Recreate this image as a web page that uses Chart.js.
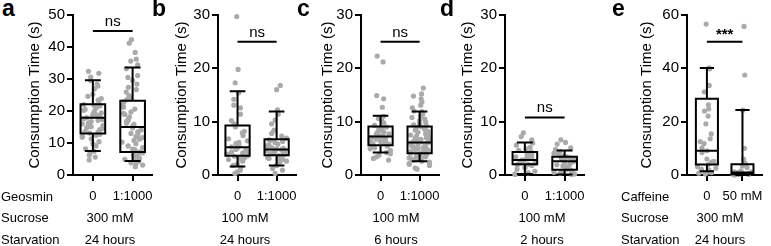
<!DOCTYPE html>
<html><head><meta charset="utf-8">
<script src="https://cdn.jsdelivr.net/npm/chart.js@4.4.0/dist/chart.umd.min.js"></script>
<style>
html,body{margin:0;padding:0;background:#fff;}
#wrap{position:relative;width:771px;height:246px;overflow:hidden;font-family:'Liberation Sans',Arial,sans-serif;color:#000;}
canvas{position:absolute;top:0;}
.t{position:absolute;font-size:13px;line-height:14px;white-space:nowrap;}
.c{transform:translateX(-50%);}
.p{position:absolute;font-weight:bold;font-size:23px;line-height:23px;}
</style></head><body><div id="wrap"></div>
<script>
// ---------- data ----------
const yTitle = 'Consumption Time (s)';
const aCats = ['0', '1:1000'];
const bCats = ['0', '1:1000'];
const cCats = ['0', '1:1000'];
const dCats = ['0', '1:1000'];
const eCats = ['0', '50 mM'];

const aYTicks = [0, 10, 20, 30, 40, 50];
const bYTicks = [0, 10, 20, 30];
const cYTicks = [0, 10, 20, 30];
const dYTicks = [0, 10, 20, 30];
const eYTicks = [0, 20, 40, 60];

// box stats: [whisker low, Q1, median, Q3, whisker high]
const aBox = [[7.5, 13.0, 17.9, 22.1, 29.6], [4.4, 7.2, 15.0, 23.2, 33.6]];
const bBox = [[1.6, 3.6, 5.2, 9.3, 15.7], [1.8, 3.7, 4.8, 6.7, 11.9]];
const cBox = [[4.2, 5.6, 7.2, 9.1, 11.1], [2.6, 4.1, 6.1, 9.1, 11.9]];
const dBox = [[0.2, 2.0, 2.8, 4.3, 6.1], [0.1, 1.0, 2.6, 3.4, 4.6]];
const eBox = [[1.4, 3.9, 9.1, 28.6, 40.1], [0.0, 0.3, 0.9, 4.0, 24.4]];

// individual observations
const aG1 = [18.3, 12.7, 24.6, 9.1, 20.2, 15.4, 29.5, 17.1, 13.6, 21.8, 6.2, 19.4, 16.0, 26.9, 11.3, 22.5, 18.9, 14.2, 4.7, 20.9, 17.6, 31.8, 13.1, 23.4, 8.2, 19.8, 15.9, 27.8, 12.0, 21.3, 16.7, 10.4, 25.2, 18.0, 14.8, 5.6, 22.0, 17.3, 30.6, 13.4, 20.5, 7.4, 16.3, 23.9, 11.8, 19.1, 15.1, 28.4, 9.8, 21.6, 17.9, 12.4, 32.4, 14.5, 6.8, 18.6];
const aG2 = [15.3, 5.2, 27.4, 9.8, 21.2, 3.1, 35.6, 12.6, 18.9, 6.4, 24.8, 14.1, 33.2, 7.9, 19.7, 4.3, 29.6, 11.2, 16.8, 2.6, 22.9, 8.6, 42.3, 13.5, 25.9, 5.8, 17.4, 31.1, 10.3, 20.6, 3.8, 36.2, 14.7, 7.2, 23.6, 12.0, 41.2, 6.9, 18.2, 26.7, 4.9, 15.8, 9.1, 34.4, 21.8, 5.5, 13.0, 28.4, 8.1, 38.3, 16.2, 3.5, 19.3, 11.7, 24.2, 6.1, 30.5, 10.8, 17.0];
const bG1 = [5.1, 3.2, 9.6, 1.4, 6.8, 4.4, 29.7, 2.6, 13.1, 5.6, 0.3, 8.2, 3.9, 19.8, 4.8, 11.4, 2.1, 7.4, 5.3, 0.9, 17.3, 3.6, 9.0, 4.1, 14.2, 6.1, 1.8, 4.6, 10.2, 3.0, 5.9, 12.6, 0.6, 7.9, 4.3, 15.4, 2.9, 6.4, 3.5];
const bG2 = [4.9, 3.8, 6.5, 2.4, 5.4, 16.8, 4.2, 7.3, 3.1, 5.8, 1.2, 4.6, 9.6, 3.6, 6.1, 2.9, 16.0, 5.0, 4.0, 11.4, 3.3, 6.9, 0.3, 4.7, 5.6, 2.2, 8.4, 3.9, 5.2, 12.2, 4.4, 6.3, 1.8, 4.1, 7.8, 3.5, 5.5, 2.6, 10.3, 4.8, 6.6, 3.0, 5.1, 0.9, 4.5];
const cG1 = [7.1, 5.4, 9.3, 6.2, 22.3, 4.6, 8.0, 6.8, 3.1, 10.2, 7.6, 5.8, 14.9, 6.5, 8.7, 4.2, 7.3, 21.2, 5.1, 9.8, 6.0, 2.8, 7.9, 11.0, 5.6, 8.4, 6.7, 14.3, 4.9, 7.4, 3.7, 9.0, 6.3, 12.7, 5.3, 8.1, 7.0, 4.0, 10.6, 6.1, 5.9, 8.9, 3.4, 7.7, 6.6];
const cG2 = [6.2, 3.8, 9.4, 5.1, 12.6, 2.4, 7.3, 4.5, 10.8, 6.7, 1.3, 8.2, 3.2, 14.3, 5.7, 9.9, 4.0, 7.0, 2.8, 11.5, 6.0, 16.3, 3.6, 8.6, 5.4, 13.1, 4.8, 7.8, 2.0, 9.0, 6.5, 3.4, 10.2, 5.0, 12.0, 4.2, 7.5, 1.8, 8.9, 5.9, 3.0, 11.0, 6.9, 4.6, 14.8, 2.6, 8.0, 5.3, 9.6, 3.9, 6.3, 13.7, 4.4, 7.1, 1.1, 10.5, 5.6, 3.3, 8.4, 6.1, 2.2, 11.9, 4.9, 7.7, 3.7, 9.2, 5.2, 15.2, 4.1, 6.6, 2.9, 8.7, 5.8];
const dG1 = [2.9, 1.8, 4.6, 0.4, 3.4, 2.2, 7.9, 5.2, 1.1, 3.0, 2.5, 6.0, 0.1, 3.8, 2.7, 4.1, 1.5, 3.2, 7.2, 2.0, 5.6, 0.7, 2.8, 3.6, 1.9, 4.9, 2.4, 6.6, 0.2, 3.1, 2.6, 4.4, 1.3, 3.9, 2.1];
const dG2 = [2.6, 0.8, 3.9, 1.4, 5.8, 0.2, 3.1, 2.0, 6.6, 1.0, 4.4, 2.9, 0.5, 3.4, 1.7, 5.1, 2.3, 0.1, 3.7, 1.2, 4.8, 2.7, 0.6, 3.2, 1.9, 6.1, 0.3, 2.5, 4.1, 1.5, 3.5, 0.9, 2.8];
const eG1 = [9.1, 40.2, 2.2, 26.3, 0.7, 15.4, 56.6, 4.8, 31.2, 1.1, 11.8, 39.8, 3.1, 22.1, 0.4, 13.6, 6.0, 33.6, 1.6, 24.8, 8.4, 2.6, 19.2, 0.9, 10.2, 3.9, 24.0, 5.1, 12.5, 1.9];
const eG2 = [0.6, 55.7, 0.2, 4.1, 1.2, 37.5, 0.4, 2.8, 0.1, 24.3, 0.9, 10.0, 0.3, 6.0, 1.6, 0.5, 3.4, 0.2, 0.8, 4.5, 0.0, 1.1, 0.3];

// significance: [bar value, label]
const aSig = [45, 'ns'];
const bSig = [25, 'ns'];
const cSig = [25, 'ns'];
const dSig = [10.8, 'ns'];
const eSig = [50, '***'];

// condition rows
const aRowLabels = ['Geosmin', 'Sucrose', 'Starvation'];
const eRowLabels = ['Caffeine', 'Sucrose', 'Starvation'];
const aCond = ['300 mM', '24 hours'];
const bCond = ['100 mM', '24 hours'];
const cCond = ['100 mM', '6 hours'];
const dCond = ['100 mM', '2 hours'];
const eCond = ['300 mM', '24 hours'];

// ---------- layout ----------
const F = "'Liberation Sans', Arial, sans-serif";
const panels = [
  {k:'a', L:26,  axisX:73,  axisEnd:153, padR:10, xmin:0.5,  xmax:2.5,  ymax:50, yt:aYTicks, cats:aCats, g:[aG1,aG2], box:aBox, sig:aSig, cond:aCond, condX:110, letterX:2,   rows:aRowLabels, rowX:1},
  {k:'b', L:173, axisX:218, axisEnd:297, padR:10, xmin:0.5,  xmax:2.5,  ymax:30, yt:bYTicks, cats:bCats, g:[bG1,bG2], box:bBox, sig:bSig, cond:bCond, condX:245, letterX:152},
  {k:'c', L:319, axisX:361, axisEnd:440, padR:10, xmin:0.5,  xmax:2.5,  ymax:30, yt:cYTicks, cats:cCats, g:[cG1,cG2], box:cBox, sig:cSig, cond:cCond, condX:396, letterX:297},
  {k:'d', L:459, axisX:505, axisEnd:585, padR:10, xmin:0.5,  xmax:2.5,  ymax:30, yt:dYTicks, cats:dCats, g:[dG1,dG2], box:dBox, sig:dSig, cond:dCond, condX:542, letterX:440},
  {k:'e', L:638, axisX:687, axisEnd:769, padR:2,  xmin:0.44, xmax:2.54, ymax:60, yt:eYTicks, cats:eCats, g:[eG1,eG2], box:eBox, sig:eSig, cond:eCond, condX:720, letterX:612, rows:eRowLabels, rowX:621}
];
const H = 246, AXIS_Y = 175, TOP = 15;
const ROWY = [197, 218, 240];

const pattern = [0, 0.62, -0.55, 0.3, -0.82, 0.9, -0.28, 0.47, -0.7, 0.12, -0.4, 0.76, -0.95, 0.2, -0.15, 0.55];
function swarm(vals, c, ymax) {
  return vals.map((v, i) => {
    const nb = vals.filter(w => Math.abs(w - v) < ymax * 0.05).length;
    const spread = 0.28 * Math.min(1, 0.15 + nb / 9);
    return {x: c + pattern[i % pattern.length] * spread, y: v};
  });
}

const boxPlugin = {
  id: 'boxes',
  afterDatasetsDraw(chart, args, o) {
    const xs = chart.scales.x, ys = chart.scales.y, ctx = chart.ctx;
    const X = v => xs.getPixelForValue(v), Y = v => ys.getPixelForValue(v);
    ctx.save();
    ctx.strokeStyle = '#000'; ctx.lineWidth = 2; ctx.lineCap = 'butt';
    o.box.forEach((b, i) => {
      const c = i + 1; const [lo, q1, md, q3, hi] = b;
      const xl = X(c - 0.31), xr = X(c + 0.31), xc = X(c), cl = X(c - 0.2), cr = X(c + 0.2);
      ctx.beginPath();
      ctx.rect(xl, Y(q3), xr - xl, Y(q1) - Y(q3));
      ctx.moveTo(xl, Y(md)); ctx.lineTo(xr, Y(md));
      ctx.moveTo(xc, Y(q3)); ctx.lineTo(xc, Y(hi));
      ctx.moveTo(cl, Y(hi)); ctx.lineTo(cr, Y(hi));
      ctx.moveTo(xc, Y(q1)); ctx.lineTo(xc, Y(lo));
      ctx.moveTo(cl, Y(lo)); ctx.lineTo(cr, Y(lo));
      ctx.stroke();
    });
    const [sv, st] = o.sig;
    const sy = Y(sv);
    ctx.beginPath(); ctx.moveTo(X(1), sy); ctx.lineTo(X(2), sy); ctx.stroke();
    ctx.fillStyle = '#000'; ctx.textAlign = 'center'; ctx.textBaseline = 'alphabetic';
    ctx.font = (st === 'ns' ? '15px ' : 'bold 15px ') + F;
    ctx.fillText(st, X(1.5), st === 'ns' ? sy - 5 : sy - 3);
    ctx.restore();
  }
};

const wrap = document.getElementById('wrap');
function addText(txt, x, y, center) {
  const d = document.createElement('div');
  d.className = 't' + (center ? ' c' : '');
  d.textContent = txt; d.style.left = x + 'px'; d.style.top = (y - 7) + 'px';
  wrap.appendChild(d);
}

panels.forEach(p => {
  const W = p.axisEnd - p.L + p.padR;
  const cv = document.createElement('canvas');
  cv.width = W; cv.height = H; cv.style.left = p.L + 'px';
  cv.style.width = W + 'px'; cv.style.height = H + 'px';
  wrap.appendChild(cv);
  const grid = {display: true, drawOnChartArea: false, drawTicks: true, tickLength: 6, tickWidth: 2, tickColor: '#000', color: '#000', lineWidth: 2};
  const border = {display: true, color: '#000', width: 2};
  new Chart(cv, {
    type: 'scatter',
    data: {datasets: p.g.map((g, gi) => ({
      data: swarm(g, gi + 1, p.ymax), clip: false,
      pointRadius: 2.6, pointHoverRadius: 2.6, pointBackgroundColor: '#aaaaaa', pointBorderWidth: 0
    }))},
    options: {
      responsive: false, animation: false, events: [],
      layout: {padding: {left: 0, top: TOP, right: p.padR, bottom: 0}},
      plugins: {legend: {display: false}, tooltip: {enabled: false}, boxes: {box: p.box, sig: p.sig}},
      scales: {
        x: {type: 'linear', min: p.xmin, max: p.xmax,
            afterBuildTicks: s => { s.ticks = [{value: 1}, {value: 2}]; },
            afterFit: s => { s.height = H - AXIS_Y; },
            ticks: {callback: v => p.cats[Math.round(v) - 1], font: {size: 13, family: F}, color: '#000', padding: 8, maxRotation: 0, autoSkip: false},
            grid: grid, border: border},
        y: {type: 'linear', min: 0, max: p.ymax,
            afterBuildTicks: s => { s.ticks = p.yt.map(v => ({value: v})); },
            afterFit: s => { s.width = p.axisX - p.L; },
            ticks: {font: {size: 15, family: F}, color: '#000', padding: 2},
            title: {display: true, text: yTitle, font: {size: 15, family: F}, color: '#000', padding: 0},
            grid: grid, border: border}
      }
    },
    plugins: [boxPlugin]
  });
  const L = document.createElement('div');
  L.className = 'p'; L.textContent = p.k; L.style.left = p.letterX + 'px'; L.style.top = '-3px';
  wrap.appendChild(L);
  if (p.rows) p.rows.forEach((r, i) => addText(r, p.rowX, ROWY[i], false));
  p.cond.forEach((t, i) => addText(t, p.condX, ROWY[i + 1], true));
});
</script></body></html>
